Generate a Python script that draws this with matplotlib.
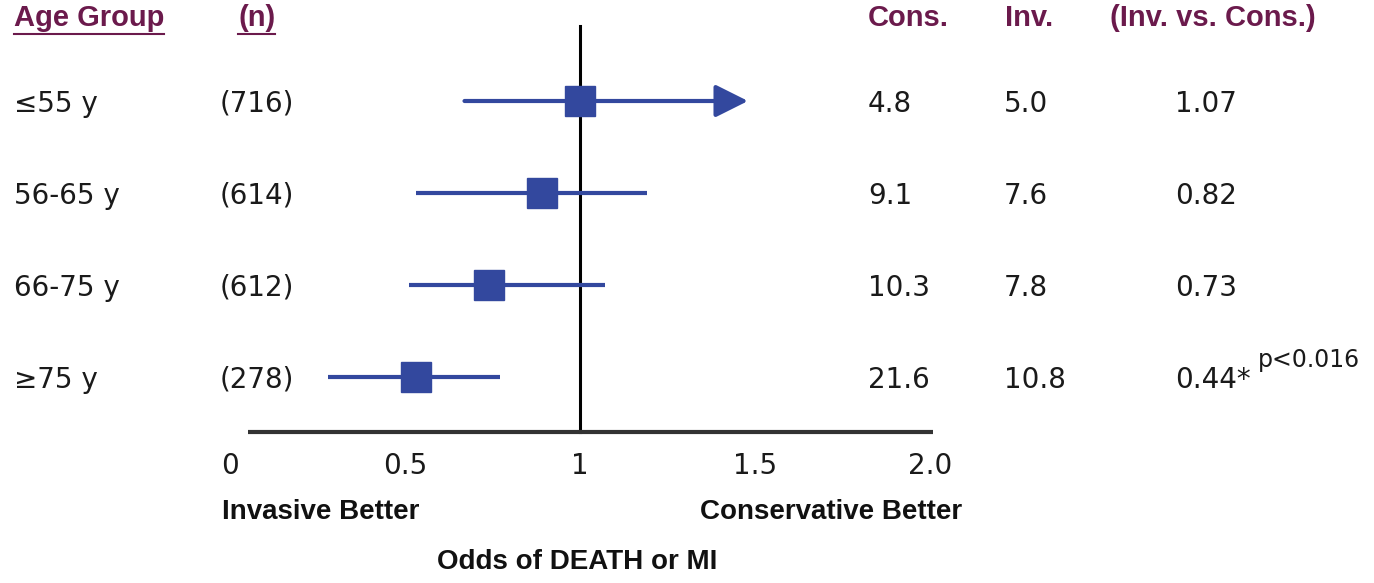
import matplotlib
matplotlib.use("Agg")
import matplotlib.pyplot as plt
import matplotlib.transforms as mtransforms
from matplotlib.lines import Line2D

# --- data ---
groups = ["≤55 y", "56-65 y", "66-75 y", "≥75 y"]
n_pts = ["(716)", "(614)", "(612)", "(278)"]
odds = [1.00, 0.89, 0.74, 0.53]          # plotted point
ci_lo = [0.67, 0.53, 0.51, 0.28]
ci_hi = [1.48, 1.19, 1.07, 0.77]         # first row runs off as an arrow
arrow_row = [True, False, False, False]
cons_pct = ["4.8", "9.1", "10.3", "21.6"]
inv_pct = ["5.0", "7.6", "7.8", "10.8"]
or_txt = ["1.07", "0.82", "0.73", "0.44*"]
xticks = [0, 0.5, 1, 1.5, 2.0]
xtick_labels = ["0", "0.5", "1", "1.5", "2.0"]

PURPLE = "#6b1a4c"
BLUE = "#33489e"
INK = "#1a1a1a"
REG = ["DejaVu Sans"]                     # wide digits, close to the original face
BOLD = ["Liberation Sans", "DejaVu Sans"]
plt.rcParams["font.family"] = REG

W, H = 1374, 583
fig = plt.figure(figsize=(W / 100, H / 100), dpi=100)
ax = fig.add_axes([0, 0, 1, 1])
# x: OR scale (0 -> px 230, 1 -> px 580); y: row index (row 0 at px 101, 92 px per row)
ax.set_xlim(-230 / 350, (W - 230) / 350)
ax.set_ylim((H - 101) / 92, -101 / 92)
ax.axis("off")

# reference line at 1 and bottom axis
ax.plot([1, 1], [-0.82, 3.6], color="black", lw=2.2, zorder=2)
ax.plot([0.05, 2.01], [3.6, 3.6], color="#333333", lw=3, solid_capstyle="butt")
for t, lab in zip(xticks, xtick_labels):
    ax.text(t, 3.97, lab, ha="center", va="center", fontsize=20, color=INK)

for i in range(len(groups)):
    if arrow_row[i]:
        ax.annotate("", xy=(ci_hi[i], i), xytext=(ci_lo[i], i),
                    arrowprops=dict(arrowstyle="-|>,head_length=1.0,head_width=0.5",
                                    color=BLUE, lw=3, mutation_scale=20,
                                    shrinkA=0, shrinkB=0))
    else:
        ax.plot([ci_lo[i], ci_hi[i]], [i, i], color=BLUE, lw=3, solid_capstyle="butt")
    ax.plot(odds[i], i, marker="s", markersize=21, color=BLUE, zorder=3)

# table columns (x in figure fraction, y in row units)
tr = mtransforms.blended_transform_factory(fig.transFigure, ax.transData)
cols = [(14, groups), (220, n_pts), (868, cons_pct), (1004, inv_pct), (1175, or_txt)]
for px, vals in cols:
    for i, v in enumerate(vals):
        ax.text(px / W, i + 0.03, v, transform=tr, ha="left", va="center",
                fontsize=20, color=INK)
ax.text(1258 / W, 2.82, "p<0.016", transform=tr, ha="left", va="center",
        fontsize=17, color=INK)

# headers
hy = -0.9
heads = [(14, "Age Group", True), (238, "(n)", True), (868, "Cons.", False),
         (1005, "Inv.", False), (1110, "(Inv. vs. Cons.)", False)]
htexts = []
for px, s, ul in heads:
    t = ax.text(px / W, hy, s, transform=tr, ha="left", va="center",
                fontsize=21, fontweight="bold", color=PURPLE, family=BOLD)
    if ul:
        htexts.append(t)

# bottom captions
ax.text(222 / W, 4.47, "Invasive Better", transform=tr, ha="left", va="center",
        fontsize=20, fontweight="bold", color="#111111", family=BOLD)
ax.text(962 / W, 4.47, "Conservative Better", transform=tr, ha="right", va="center",
        fontsize=20, fontweight="bold", color="#111111", family=BOLD)
ax.text(577 / W, 5.01, "Odds of DEATH or MI", transform=tr, ha="center", va="center",
        fontsize=20, fontweight="bold", color="#111111", family=BOLD)

# underline the two left headers
fig.canvas.draw()
r = fig.canvas.get_renderer()
for t in htexts:
    bb = t.get_window_extent(r)
    y = (H - 34) / H
    fig.add_artist(Line2D([bb.x0 / W, bb.x1 / W], [y, y], color=PURPLE, lw=1.5,
                          transform=fig.transFigure))

fig.savefig("out.png", dpi=100)
